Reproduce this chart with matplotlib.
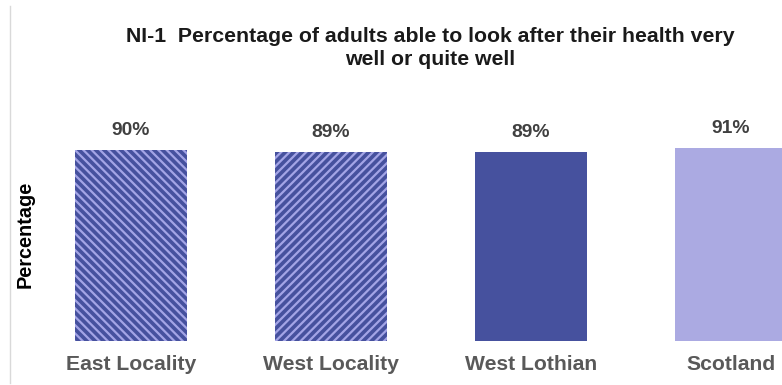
import matplotlib.pyplot as plt
from matplotlib.lines import Line2D

# data
areas = ["East Locality", "West Locality", "West Lothian", "Scotland"]
values = [90, 89, 89, 91]
labels = ["90%", "89%", "89%", "91%"]

dark = "#46519e"
light = "#abaae2"
face_colors = [dark, dark, dark, light]
hatch_colors = ["#a3a4e6", "#a3a4e6", dark, light]
hatches = ["\\\\\\\\", "////", None, None]

plt.rcParams['font.family'] = ['Liberation Sans', 'DejaVu Sans']
plt.rcParams['hatch.linewidth'] = 1.6

fig = plt.figure(figsize=(7.82, 3.85), dpi=100)
ax = fig.add_axes([31 / 782, 44 / 385, 800 / 782, 212 / 385])

x = range(len(areas))
bars = ax.bar(x, values, width=0.56, color=face_colors, edgecolor=hatch_colors,
              linewidth=0)
for b, h in zip(bars, hatches):
    if h:
        b.set_hatch(h)

for xi, v, lab in zip(x, values, labels):
    ax.annotate(lab, (xi, v), xytext=(0, 20), textcoords="offset pixels",
                ha="center", va="center", fontsize=13.9, fontweight="bold",
                color="#404040")

ax.set_xlim(-0.5, 3.5)
ax.set_ylim(0, 100)
ax.set_xticks(list(x))
ax.set_xticklabels(areas, fontsize=15.2, fontweight="bold", color="#595959")
ax.tick_params(axis="x", length=0, pad=10)
ax.set_yticks([])
for s in ax.spines.values():
    s.set_visible(False)

fig.text(25 / 782, 1 - 234 / 385, "Percentage", rotation=90, ha="center",
         va="center", fontsize=14.3, fontweight="bold", color="black")

fig.text(430 / 782, 1 - 48 / 385,
         "NI-1  Percentage of adults able to look after their health very\nwell or quite well",
         ha="center", va="center", fontsize=15.3, fontweight="bold",
         color="#1a1a1a", linespacing=1.25)

fig.add_artist(Line2D([9.5 / 782, 9.5 / 782], [2 / 385, 1 - 6 / 385],
                      transform=fig.transFigure, color="#d9d9d9", lw=1))

fig.savefig("out.png", dpi=100)
